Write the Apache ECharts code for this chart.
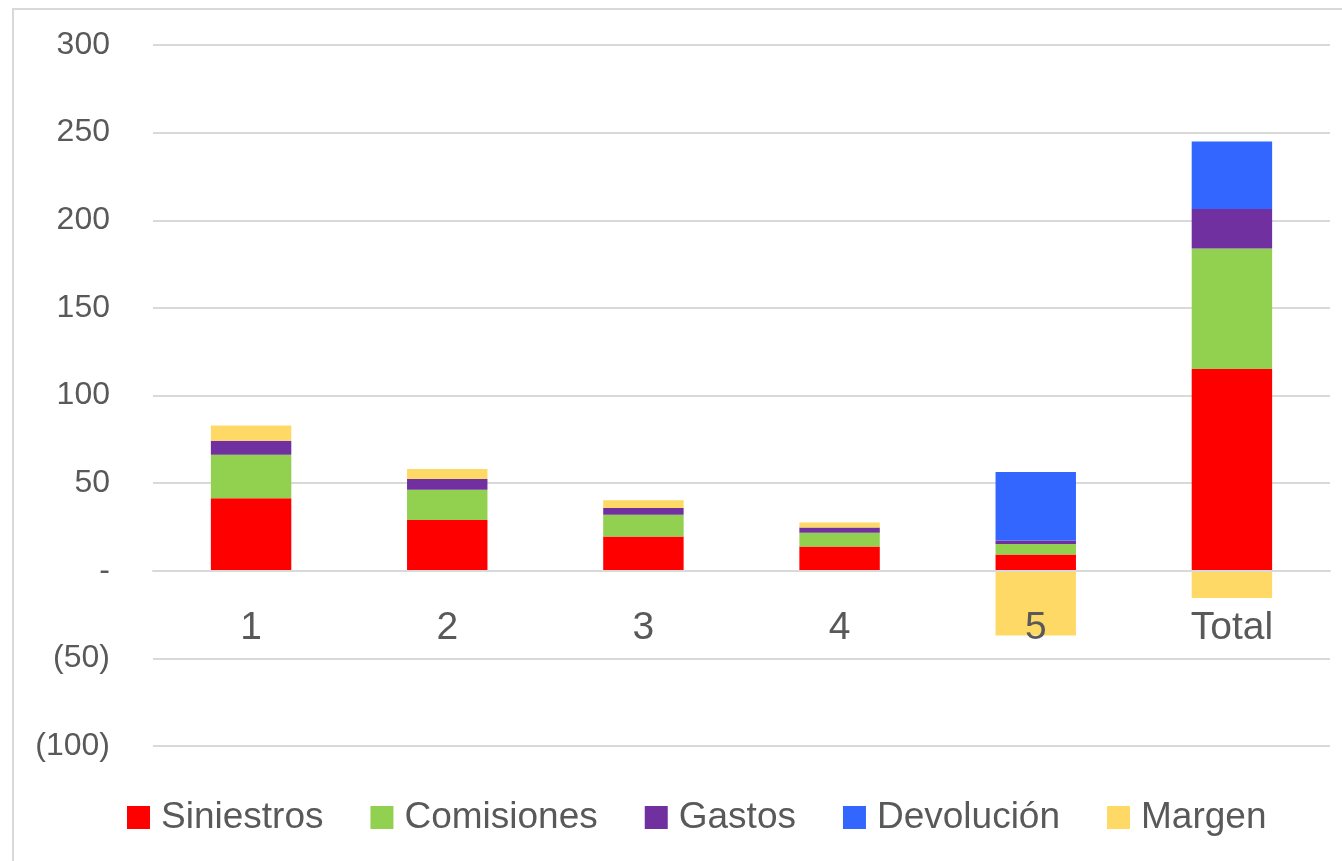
<!DOCTYPE html>
<html><head><meta charset="utf-8">
<script src="https://cdn.jsdelivr.net/npm/echarts@6/dist/echarts.min.js"></script>
<style>
html,body{margin:0;padding:0;background:#fff;}
#frame{position:absolute;left:12px;top:8px;width:1340px;height:860px;border:2px solid #d9d9d9;box-sizing:border-box;}
#c{position:absolute;left:0;top:0;width:1342px;height:861px;}
</style></head>
<body><div id="frame"></div><div id="c"></div>
<script>
const categories = ['1','2','3','4','5','Total'];
const siniestros = [41.3, 28.9, 19.6, 13.9, 9.3, 115.1];
const comisiones = [24.9, 17.3, 12.4, 7.8, 5.9, 68.8];
const gastos = [8.0, 6.1, 3.8, 3.0, 2.1, 22.5];
const devolucion = [0, 0, 0, 0, 39.0, 38.6];
const margen = [8.7, 5.7, 4.4, 2.9, -36.9, -15.5];
const seriesNames = ['Siniestros','Comisiones','Gastos','Devolución','Margen'];
const colors = ['#FF0000','#92D050','#7030A0','#3366FF','#FFD966'];
const yTicks = {min:-100, max:300, interval:50};

const chart = echarts.init(document.getElementById('c'));
const font = 'Liberation Sans, Arial, sans-serif';
const dataArr = [siniestros, comisiones, gastos, devolucion, margen];
const gridTop = 45, gridBottom = 115, H = 861;
// offset so the category axis (with its labels) sits on the zero line
const plotH = H - gridTop - gridBottom;
const zeroOffset = -plotH * (0 - yTicks.min) / (yTicks.max - yTicks.min);
chart.setOption({
  animation:false,
  color: colors,
  grid:{left:153, right:12, top:gridTop, bottom:gridBottom, containLabel:false},
  legend:{
    bottom:20, left:122, itemWidth:23, itemHeight:23, itemGap:47,
    icon:'rect',
    textStyle:{fontSize:37, color:'#595959', fontFamily:font, padding:[0,0,0,6]},
    data: seriesNames
  },
  xAxis:{
    type:'category', data:categories, offset: zeroOffset, z:10,
    axisLine:{show:true, onZero:false, lineStyle:{color:'#d9d9d9', width:2}},
    axisTick:{show:false},
    axisLabel:{fontSize:39, color:'#595959', fontFamily:font, margin:38}
  },
  yAxis:{
    type:'value', min:yTicks.min, max:yTicks.max, interval:yTicks.interval,
    axisLine:{show:false}, axisTick:{show:false},
    splitLine:{lineStyle:{color:'#d9d9d9', width:2}},
    axisLabel:{fontSize:32, color:'#595959', fontFamily:font, margin:43,
      formatter: v => v === 0 ? '-' : (v < 0 ? '(' + Math.abs(v) + ')' : String(v))}
  },
  series: seriesNames.map((n,i)=>({
    name:n, type:'bar', stack:'s', barWidth:'41%',
    data: dataArr[i],
    itemStyle:{color:colors[i]}
  }))
});
</script></body></html>
